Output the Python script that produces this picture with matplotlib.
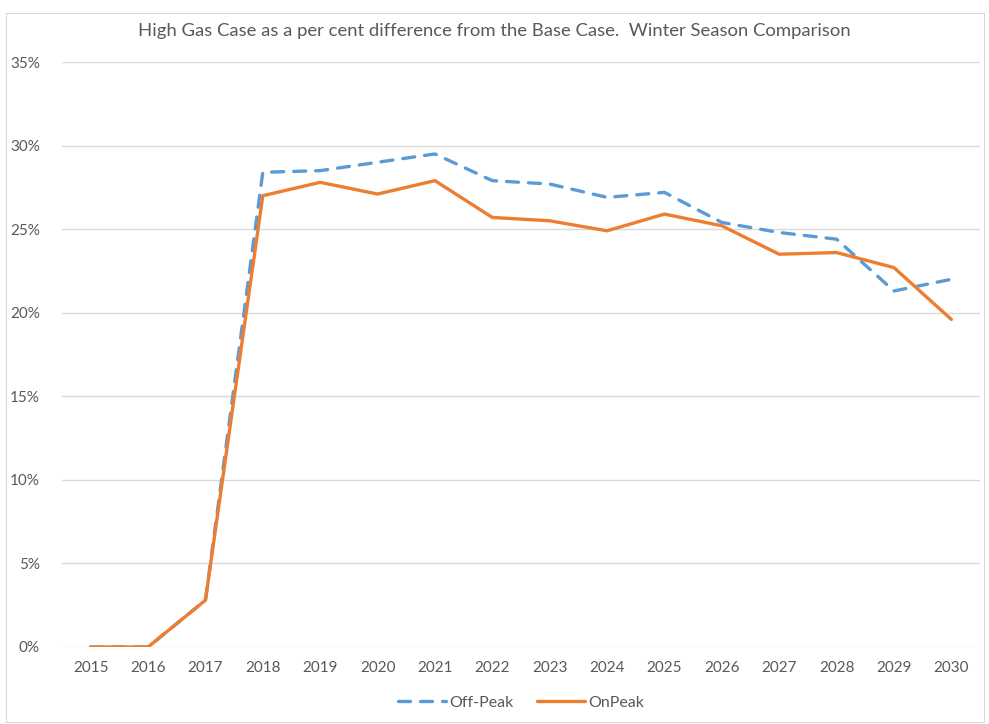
import numpy as np
import matplotlib
matplotlib.use('Agg')
import matplotlib.pyplot as plt
from matplotlib.patches import Rectangle
from matplotlib.ticker import PercentFormatter

# 年（カテゴリ）
years = [str(y) for y in range(2015, 2031)]

# 基準ケースとの差（%）
off_peak = [0.0, 0.0, 2.8, 28.4, 28.5, 29.0, 29.5, 27.9, 27.7, 26.9, 27.2, 25.4, 24.8, 24.4, 21.3, 22.0]
on_peak = [0.0, 0.0, 2.8, 27.0, 27.8, 27.1, 27.9, 25.7, 25.5, 24.9, 25.9, 25.2, 23.5, 23.6, 22.7, 19.6]

title = 'High Gas Case as a per cent difference from the Base Case.  Winter Season Comparison'

# 色
off_color = '#5B9BD5'
on_color = '#ED7D31'
grid_color = '#D9D9D9'
text_color = '#595959'

plt.rcParams['font.family'] = ['Lato', 'DejaVu Sans']

fig = plt.figure(figsize=(9.89, 7.24), dpi=100)
fig.patches.append(Rectangle((6/989, 2/724), 978/989, 709/724, transform=fig.transFigure,
                             fill=False, edgecolor='#D9D9D9', linewidth=0.8))

ax = fig.add_axes([62/989, 77/724, 918/989, 585/724])
x = np.arange(len(years))

ax.plot(x, off_peak, color=off_color, linewidth=2.4, linestyle=(0, (3.6, 3.0)),
        dash_capstyle='round', label='Off-Peak', zorder=3)
ax.plot(x, on_peak, color=on_color, linewidth=2.4, solid_capstyle='round',
        label='OnPeak', zorder=4)

ax.set_xlim(-0.5, len(years) - 0.5)
ax.set_ylim(0, 35)
ax.set_yticks(np.arange(0, 36, 5))
ax.yaxis.set_major_formatter(PercentFormatter(decimals=0))
ax.set_xticks(x)
ax.set_xticklabels(years)

ax.grid(axis='y', color=grid_color, linewidth=1)
ax.set_axisbelow(True)
for s in ax.spines.values():
    s.set_visible(False)
ax.tick_params(length=0, labelsize=11, colors=text_color)
ax.tick_params(axis='x', pad=10)
ax.tick_params(axis='y', pad=16)

fig.text(0.5, 1 - 31/724, title, ha='center', va='center', fontsize=13.3, color=text_color)

leg = ax.legend(loc='center', bbox_to_anchor=(0.5, -0.095), ncol=2, frameon=False,
                fontsize=11.5, handlelength=3.0, columnspacing=1.5, handletextpad=0.2)
for t in leg.get_texts():
    t.set_color(text_color)

fig.savefig('out.png', dpi=100)
